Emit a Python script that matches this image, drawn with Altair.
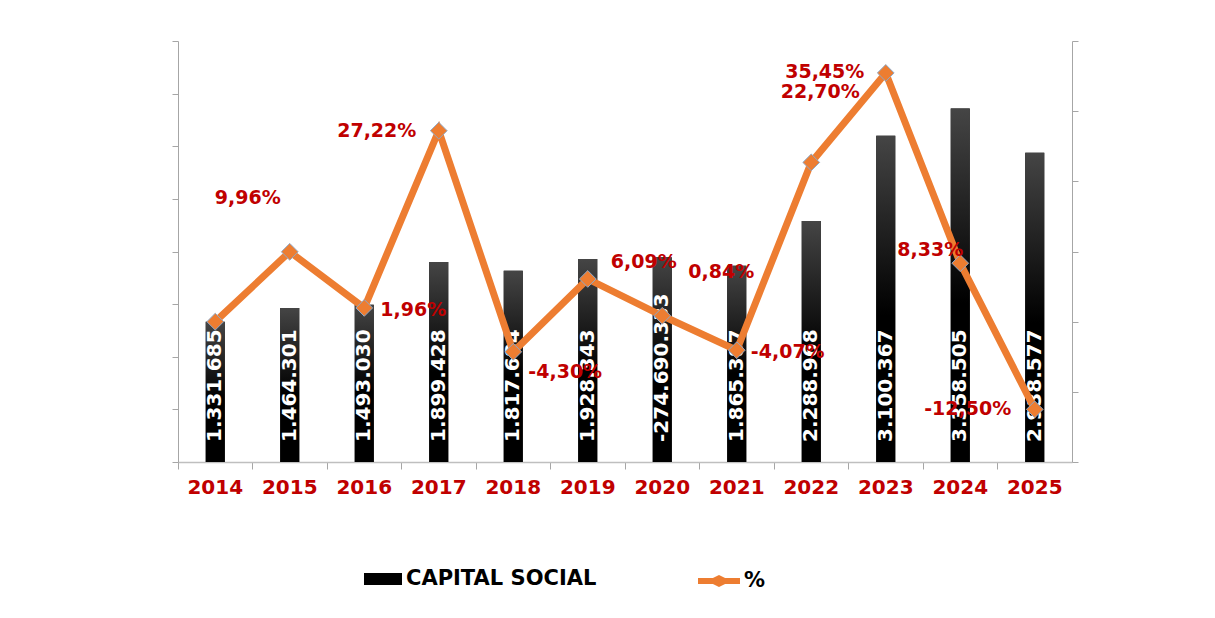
import altair as alt
import pandas as pd

years = ["2014", "2015", "2016", "2017", "2018", "2019", "2020", "2021", "2022", "2023", "2024", "2025"]
capital = [1331685, 1464301, 1493030, 1899428, 1817684, 1928343, 1944540, 1865387, 2288968, 3100367, 3358505, 2938577]
capital_labels = ["1.331.685", "1.464.301", "1.493.030", "1.899.428", "1.817.684", "1.928.343",
                  "-274.690.333", "1.865.387", "2.288.968", "3.100.367", "3.358.505", "2.938.577"]
pct = [0.0, 9.96, 1.96, 27.22, -4.30, 6.09, 0.84, -4.07, 22.70, 35.45, 8.33, -12.50]
pct_labels = ["", "9,96%", "1,96%", "27,22%", "-4,30%", "6,09%", "0,84%", "-4,07%", "22,70%", "35,45%", "8,33%", "-12,50%"]
# label offsets (pixels) relative to each point
label_dx = [0, -42, 49, -62, 52, 56, 59, 51, 9, -61, -30, -67]
label_dy = [0, -54, 2, 0, 20, -17, -44, 2, -70, -1, -13, 0]

df = pd.DataFrame({
    "year": years, "capital": capital, "cap_label": capital_labels,
    "pct": pct, "pct_label": pct_labels, "ldx": label_dx, "ldy": label_dy,
})
df["serie_bar"] = "CAPITAL SOCIAL"
df["serie_line"] = "%"
df["zero"] = 0

FONT = "DejaVu Sans"
ORANGE = "#ED7D31"
RED = "#C00000"
AXIS_GRAY = "#A6A6A6"

x_enc = alt.X("year:N", sort=years, title=None,
              scale=alt.Scale(paddingInner=0, paddingOuter=0),
              axis=alt.Axis(labelColor=RED, labelFont=FONT, labelFontSize=20, labelFontWeight="bold",
                            labelAngle=0, labelPadding=8, tickSize=7, bandPosition=0,
                            domainColor="#BFBFBF", tickColor=AXIS_GRAY, domainWidth=1.5))

left_axis = alt.Axis(orient="left", labels=False, values=list(range(0, 4000001, 500000)),
                     tickSize=6, domainColor=AXIS_GRAY, tickColor=AXIS_GRAY, grid=False, title=None)
left_scale = alt.Scale(domain=[0, 4000000], nice=False, zero=True)

base = alt.Chart(df)

bars_legend = base.mark_bar(size=19).encode(
    x=x_enc, y=alt.Y("capital:Q", scale=left_scale, axis=left_axis),
    fill=alt.Fill("serie_bar:N", scale=alt.Scale(domain=["CAPITAL SOCIAL"], range=["#000000"]),
                  legend=alt.Legend(orient="none", legendX=186, legendY=519, title=None,
                                    symbolType="M-1,-0.32H1V0.32H-1Z", symbolSize=1444,
                                    symbolStrokeWidth=0, labelFont=FONT, labelFontSize=21,
                                    labelFontWeight="bold", labelColor="#000000", labelOffset=4,
                                    labelLimit=0, padding=0)),
)

grad = alt.LinearGradient(gradient="linear",
                          stops=[alt.GradientStop(color="#454545", offset=0),
                                 alt.GradientStop(color="#000000", offset=0.55),
                                 alt.GradientStop(color="#000000", offset=1)],
                          x1=0, y1=0, x2=0, y2=1)
bars = base.mark_bar(size=19, color=grad).encode(
    x=x_enc, y=alt.Y("capital:Q", scale=left_scale, axis=left_axis))

bar_text = base.mark_text(angle=270, align="left", baseline="middle", dx=20, font=FONT,
                          fontSize=20, fontWeight="bold", color="white").encode(
    x=x_enc, y=alt.Y("zero:Q", scale=left_scale, axis=left_axis), text="cap_label:N")

left = alt.layer(bars_legend, bars, bar_text)

right_axis = alt.Axis(orient="right", labels=False, values=[-20, -10, 0, 10, 20, 30, 40],
                      tickSize=6, domainColor=AXIS_GRAY, tickColor=AXIS_GRAY, grid=False, title=None)
right_scale = alt.Scale(domain=[-20, 40], nice=False, zero=False)

line = base.mark_line(color=ORANGE, strokeWidth=7).encode(
    x=x_enc, y=alt.Y("pct:Q", scale=right_scale, axis=right_axis))

points = base.mark_point(shape="diamond", filled=True, size=280, opacity=1,
                         stroke="#8EA9C8", strokeWidth=1).encode(
    x=x_enc, y=alt.Y("pct:Q", scale=right_scale, axis=right_axis),
    fill=alt.Fill("serie_line:N", scale=alt.Scale(domain=["%"], range=[ORANGE]),
                  legend=alt.Legend(orient="none", legendX=520, legendY=519, title=None,
                                    symbolType="M-1,-0.14H-0.29L0,-0.29L0.29,-0.14H1V0.14H0.29L0,0.29L-0.29,0.14H-1Z",
                                    symbolSize=1764, symbolStrokeWidth=0,
                                    labelFont=FONT, labelFontSize=21, labelFontWeight="bold",
                                    labelColor="#000000", labelOffset=4, labelLimit=0, padding=0)),
)

pct_text = base.mark_text(font=FONT, fontSize=19, fontWeight="bold", color=RED,
                          align="center", baseline="middle",
                          dx=alt.ExprRef("datum.ldx"), dy=alt.ExprRef("datum.ldy")).encode(
    x=x_enc, y=alt.Y("pct:Q", scale=right_scale, axis=right_axis), text="pct_label:N",
)

right = alt.layer(line, points, pct_text)

chart = alt.layer(left, right).resolve_scale(y="independent", fill="independent").properties(
    width=894, height=421,
    padding={"left": 170, "top": 33, "right": 130, "bottom": 140},
    autosize=alt.AutoSizeParams(type="none"),
).configure(background="white").configure_view(stroke=None)

chart.save("out.html", embed_options={"renderer": "svg", "actions": False})
